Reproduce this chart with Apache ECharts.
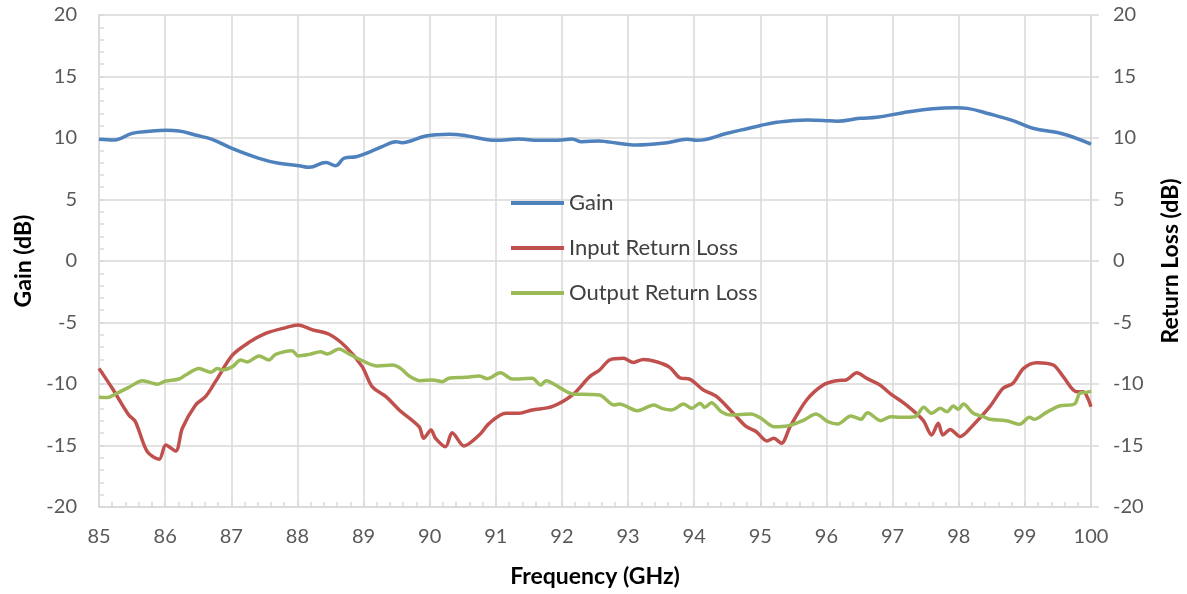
<!DOCTYPE html>
<html>
<head>
<meta charset="utf-8">
<script src="https://cdn.jsdelivr.net/npm/echarts@6/dist/echarts.min.js"></script>
<style>
html,body{margin:0;padding:0;background:#fff;}
#chart{width:1187px;height:594px;}
</style>
</head>
<body>
<div id="chart"></div>
<script>
// ---- Data ----
var gainFreq = [85.0,85.23,85.5,85.76,86.01,86.21,86.47,86.71,87.01,87.42,87.72,88.02,88.18,88.43,88.58,88.71,88.89,89.04,89.28,89.49,89.58,89.94,90.29,90.55,91.0,91.35,91.65,92.0,92.15,92.3,92.56,92.68,93.13,93.59,93.89,94.04,94.5,94.99,95.25,95.71,95.95,96.16,96.51,96.76,97.16,97.61,97.97,98.13,98.47,98.82,99.12,99.58,100.0];
var gainVal  = [9.9,9.84,10.38,10.54,10.62,10.57,10.22,9.89,9.16,8.35,7.94,7.75,7.62,8.0,7.75,8.37,8.48,8.75,9.29,9.7,9.62,10.16,10.3,10.19,9.81,9.92,9.81,9.84,9.92,9.7,9.76,9.7,9.43,9.62,9.89,9.81,10.38,11.0,11.28,11.46,11.43,11.36,11.6,11.68,12.06,12.38,12.46,12.41,11.95,11.41,10.79,10.33,9.5];

var inFreq = [85.0,85.2,85.45,85.55,85.73,85.91,86.01,86.16,86.26,86.46,86.61,86.76,87.02,87.27,87.52,87.82,88.01,88.23,88.48,88.73,88.98,89.13,89.34,89.54,89.84,89.91,90.02,90.09,90.24,90.34,90.52,90.75,90.9,91.15,91.35,91.55,91.85,92.16,92.42,92.57,92.72,92.93,93.08,93.23,93.43,93.63,93.78,93.94,94.14,94.34,94.59,94.79,94.94,95.1,95.2,95.32,95.45,95.7,95.95,96.15,96.3,96.46,96.61,96.81,96.96,97.21,97.46,97.59,97.69,97.76,97.87,98.02,98.22,98.47,98.67,98.82,98.98,99.18,99.43,99.58,99.78,99.88,100.0];
var inVal  = [-8.73,-10.35,-12.52,-13.06,-15.5,-16.12,-14.96,-15.45,-13.6,-11.7,-11.03,-9.81,-7.64,-6.61,-5.88,-5.42,-5.2,-5.6,-5.96,-6.97,-8.59,-10.22,-11.03,-12.11,-13.47,-14.42,-13.74,-14.42,-15.1,-13.96,-15.04,-14.15,-13.2,-12.38,-12.38,-12.11,-11.84,-10.89,-9.4,-8.86,-8.05,-7.91,-8.25,-8.0,-8.19,-8.65,-9.49,-9.62,-10.49,-11.03,-12.38,-13.47,-13.88,-14.63,-14.42,-14.82,-13.47,-11.3,-10.08,-9.73,-9.67,-9.08,-9.54,-10.08,-10.76,-11.71,-12.93,-14.15,-13.2,-14.15,-13.69,-14.28,-13.33,-11.84,-10.35,-9.94,-8.73,-8.27,-8.46,-9.4,-10.62,-10.62,-11.85];

var outFreq = [85.0,85.13,85.25,85.45,85.66,85.88,86.01,86.21,86.31,86.51,86.69,86.79,86.86,87.02,87.14,87.24,87.42,87.57,87.67,87.92,88.01,88.18,88.35,88.45,88.63,88.76,88.93,89.21,89.44,89.56,89.69,89.86,90.04,90.19,90.29,90.54,90.75,90.87,91.07,91.25,91.55,91.68,91.76,91.96,92.16,92.42,92.57,92.79,92.87,93.14,93.39,93.51,93.66,93.84,93.96,94.09,94.16,94.26,94.41,94.56,94.86,95.01,95.21,95.41,95.66,95.84,96.02,96.17,96.37,96.52,96.62,96.82,96.97,97.12,97.34,97.47,97.59,97.72,97.82,97.92,97.99,98.07,98.22,98.37,98.47,98.72,98.92,99.07,99.14,99.32,99.52,99.75,99.83,99.93,100.0];
var outVal  = [-11.08,-11.1,-10.81,-10.27,-9.73,-10.02,-9.76,-9.59,-9.27,-8.73,-9.05,-8.73,-8.86,-8.59,-8.05,-8.21,-7.72,-8.05,-7.59,-7.29,-7.72,-7.59,-7.38,-7.56,-7.15,-7.5,-7.97,-8.54,-8.46,-8.73,-9.35,-9.73,-9.67,-9.81,-9.54,-9.46,-9.35,-9.57,-9.08,-9.59,-9.54,-10.08,-9.73,-10.27,-10.81,-10.85,-10.89,-11.71,-11.63,-12.17,-11.71,-11.98,-12.11,-11.63,-11.98,-11.57,-11.9,-11.52,-12.25,-12.52,-12.44,-12.79,-13.47,-13.41,-12.93,-12.44,-13.06,-13.25,-12.6,-12.87,-12.33,-12.98,-12.66,-12.71,-12.66,-11.9,-12.38,-11.98,-12.25,-11.79,-12.06,-11.63,-12.38,-12.66,-12.87,-12.98,-13.28,-12.71,-12.87,-12.33,-11.79,-11.63,-10.76,-10.68,-10.6];

var seriesNames = ['Gain','Input Return Loss','Output Return Loss'];
var yTicks = {min:-20, max:20, interval:5};
var xTicks = {min:85, max:100, interval:1};

function pairs(xs, ys){ return xs.map(function(x,i){ return [x, ys[i]]; }); }

var FONT = 'Lato, "Open Sans", sans-serif';
var gridColor = '#d9d9d9';
var labelColor = '#595959';

var chart = echarts.init(document.getElementById('chart'), null, {renderer:'canvas'});
var option = {
  animation:false,
  backgroundColor:'#ffffff',
  textStyle:{fontFamily:FONT},
  grid:{left:99, right:96, top:15, bottom:87, containLabel:false, outerBoundsMode:'none'},
  legend:{
    orient:'vertical', left:506, top:187, icon:'rect',
    itemWidth:53, itemHeight:4, itemGap:23,
    textStyle:{fontFamily:FONT, fontSize:22, lineHeight:22, color:'#404040', padding:[0,0,0,0]},
    data:seriesNames
  },
  xAxis:{
    type:'value', min:xTicks.min, max:xTicks.max, interval:xTicks.interval,
    name:'Frequency (GHz)', nameLocation:'middle', nameGap:58,
    nameTextStyle:{fontFamily:FONT, fontSize:23, fontWeight:'bold', color:'#000'},
    axisLine:{show:true, onZero:false, lineStyle:{color:gridColor, width:1.5}},
    axisTick:{show:true, inside:true, length:5, lineStyle:{color:gridColor, width:1.5}},
    minorTick:{show:true, splitNumber:5, length:5, lineStyle:{color:gridColor, width:1.5}},
    axisLabel:{fontFamily:FONT, fontSize:20, color:labelColor, margin:20},
    splitLine:{show:true, lineStyle:{color:gridColor, width:1.5}}
  },
  yAxis:[{
    type:'value', position:'left', min:yTicks.min, max:yTicks.max, interval:yTicks.interval,
    name:'Gain (dB)', nameLocation:'middle', nameGap:64,
    nameTextStyle:{fontFamily:FONT, fontSize:23, fontWeight:'bold', color:'#000'},
    axisLine:{show:true, lineStyle:{color:gridColor, width:1.5}},
    axisTick:{show:true, inside:true, length:5, lineStyle:{color:gridColor, width:1.5}},
    minorTick:{show:true, splitNumber:5, length:5, lineStyle:{color:gridColor, width:1.5}},
    axisLabel:{fontFamily:FONT, fontSize:20, color:labelColor, margin:22},
    splitLine:{show:true, lineStyle:{color:gridColor, width:1.5}}
  },{
    type:'value', position:'right', min:yTicks.min, max:yTicks.max, interval:yTicks.interval,
    name:'Return Loss (dB)', nameLocation:'middle', nameGap:68, nameRotate:90,
    nameTextStyle:{fontFamily:FONT, fontSize:23, fontWeight:'bold', color:'#000'},
    axisLine:{show:true, lineStyle:{color:gridColor, width:1.5}},
    axisTick:{show:true, inside:false, length:8, lineStyle:{color:gridColor, width:1.5}},
    axisLabel:{fontFamily:FONT, fontSize:20, color:labelColor, margin:22},
    splitLine:{show:false}
  }],
  series:[
    {name:seriesNames[0], type:'line', yAxisIndex:0, data:pairs(gainFreq,gainVal), smooth:0.4, showSymbol:false, symbol:'none',
     lineStyle:{color:'#4F81BD', width:3.5}, itemStyle:{color:'#4F81BD'}},
    {name:seriesNames[1], type:'line', yAxisIndex:1, data:pairs(inFreq,inVal), smooth:0.3, showSymbol:false, symbol:'none',
     lineStyle:{color:'#C0504D', width:3.5}, itemStyle:{color:'#C0504D'}},
    {name:seriesNames[2], type:'line', yAxisIndex:1, data:pairs(outFreq,outVal), smooth:0.3, showSymbol:false, symbol:'none',
     lineStyle:{color:'#9BBB59', width:3.5}, itemStyle:{color:'#9BBB59'}}
  ]
};
chart.setOption(option);
</script>
</body>
</html>
